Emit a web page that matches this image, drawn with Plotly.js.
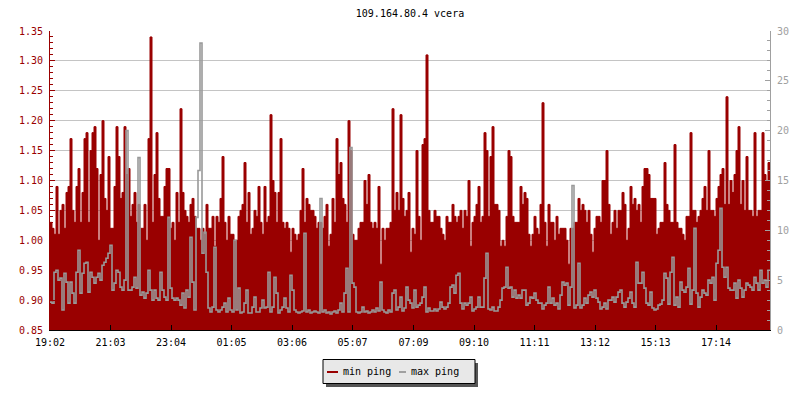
<!DOCTYPE html>
<html>
<head>
<meta charset="utf-8">
<script src="https://cdn.plot.ly/plotly-3.0.1.min.js"></script>
<style>
html,body{margin:0;padding:0;background:#fff;}
#chart{width:800px;height:400px;}
</style>
</head>
<body>
<div id="chart"></div>
<script>
// ---- data ----
const chartTitle = '109.164.80.4 vcera';
const seriesNames = ['min ping', 'max ping'];
const tickLabels = ['19:02','21:03','23:04','01:05','03:06','05:07','07:09','09:10','11:11','13:12','15:13','17:14'];
const startLabel = '19:02';
const spanMinutes = 1440;

// min ping (left axis), one value per 4 minutes
const minPing = [
1.03,1.02,1.01,1.09,1.01,1.05,1.06,1.02,1.08,1.09,
1.17,1.05,1.03,1.09,1.12,1.03,1.08,1.17,1.18,1.03,
1.15,1.18,1.19,1.12,1.00,1.11,1.20,1.07,1.05,1.14,
1.02,1.02,1.09,1.19,1.14,1.07,1.08,1.19,1.11,1.12,
1.04,1.06,1.08,1.03,1.06,1.02,1.02,1.06,1.00,1.17,
1.34,1.03,1.11,1.18,1.07,1.04,1.04,1.09,1.12,1.12,

1.02,1.03,1.00,1.08,1.03,1.22,1.08,1.05,1.04,1.03,
1.06,1.07,1.04,1.02,1.02,1.00,1.02,1.01,1.06,1.02,
1.02,1.04,0.99,1.04,1.03,1.07,1.14,1.03,1.00,1.04,
1.01,1.01,1.00,1.00,1.04,1.05,1.06,1.13,1.03,1.08,
1.01,1.02,1.05,1.04,1.09,1.03,1.01,1.09,1.03,1.04,
1.21,1.10,1.08,1.03,1.08,1.17,1.03,1.02,1.03,1.02,

0.98,1.02,1.01,1.00,1.01,1.05,1.12,1.03,1.07,1.06,
1.05,1.05,1.04,1.02,1.03,1.03,1.02,1.04,1.06,0.99,
1.01,1.07,1.03,1.17,1.11,1.13,1.07,1.06,1.03,1.20,
1.15,1.01,1.00,1.00,1.02,1.03,1.03,1.10,1.06,1.11,
1.03,1.02,1.03,1.02,1.09,0.96,1.02,1.00,1.02,1.02,
1.03,1.22,1.05,1.08,1.05,1.21,1.07,1.04,1.05,1.08,

0.98,1.02,1.01,1.15,1.04,1.00,1.16,1.17,1.31,1.05,
1.03,1.03,1.05,1.04,1.04,1.02,1.01,1.00,1.04,1.03,
1.03,1.06,1.04,1.03,1.04,1.05,1.02,1.05,1.04,1.10,
0.99,1.03,1.04,1.06,1.09,1.03,1.04,1.18,1.15,1.04,
1.14,1.19,1.06,1.06,1.05,0.99,1.00,0.99,1.04,1.15,
1.14,1.04,1.03,1.03,1.03,1.09,1.06,1.08,1.07,1.01,

0.99,1.01,1.04,1.02,1.01,1.06,1.23,1.03,0.99,1.06,
1.03,1.03,1.00,1.04,1.01,1.02,1.02,1.02,1.00,0.96,
1.02,1.02,1.03,1.03,1.07,1.05,1.06,1.05,1.03,1.05,
1.01,0.98,1.02,1.04,1.04,1.03,1.10,1.10,1.15,1.06,
1.01,1.03,1.05,1.02,1.05,1.05,1.08,1.06,1.00,1.02,
1.09,1.06,1.07,1.05,1.06,1.03,1.09,1.12,1.12,1.11,

1.07,1.07,1.07,1.01,1.02,1.03,1.03,1.13,1.06,1.05,
1.03,1.03,1.16,1.03,1.02,1.02,1.01,1.00,1.04,1.04,
1.18,1.05,1.05,1.03,1.04,1.05,1.07,1.09,1.05,1.15,
1.05,1.05,1.04,1.07,1.09,1.11,1.12,1.06,1.24,1.06,
1.10,1.08,1.11,1.15,1.19,1.06,1.10,1.05,1.14,1.05,
1.05,1.04,1.18,1.04,1.05,1.05,1.18,1.11,1.10,1.13
];

// max ping (right axis), one value per 4 minutes
const maxPing = [
2.8,2.7,5.8,6.0,5.0,5.2,2.0,5.7,4.8,2.7,
4.8,3.7,2.7,5.8,8.0,3.7,5.7,6.7,6.8,3.8,
5.8,5.3,4.7,5.3,5.7,5.0,6.5,6.8,7.2,7.7,
8.5,4.0,4.7,6.0,5.8,4.3,4.0,5.0,20.0,4.0,
4.0,4.3,5.3,4.2,17.3,3.5,3.8,3.2,3.7,6.0,
4.0,3.0,4.0,3.2,3.0,5.8,4.0,3.3,3.0,11.3,

4.2,3.2,3.0,3.2,3.0,2.5,3.7,2.2,4.0,3.3,
9.3,4.8,2.0,11.3,16.0,28.8,7.7,9.8,5.8,2.2,
1.8,2.3,8.3,2.0,1.8,2.0,2.3,2.7,1.8,3.2,
2.0,1.8,9.0,2.0,4.2,1.7,1.8,2.7,4.0,1.7,
1.7,2.3,3.3,1.8,1.8,2.2,3.0,2.2,2.3,5.8,
1.8,2.3,5.3,3.7,1.7,2.0,2.3,3.2,2.2,1.8,

5.5,4.0,2.0,1.8,1.7,1.8,1.9,9.7,1.8,2.0,
1.7,1.8,1.9,1.8,1.7,13.2,1.8,2.0,1.7,1.8,
1.6,1.8,1.9,1.7,2.0,2.7,1.8,3.7,6.2,1.8,
18.3,4.7,4.3,1.8,1.7,1.8,2.3,1.8,1.9,1.7,
1.8,2.0,1.8,2.2,1.9,4.8,2.0,1.8,1.7,2.0,
1.8,3.7,4.0,2.0,2.3,3.3,1.9,2.2,4.3,3.0,

2.7,2.2,4.0,2.3,2.5,2.7,3.3,4.3,1.8,2.2,
1.9,1.9,2.1,1.9,2.1,2.8,2.3,2.1,2.3,2.7,
4.3,4.5,3.7,5.5,5.7,2.7,2.1,2.7,2.5,2.7,
3.3,1.9,2.1,2.3,3.3,2.3,2.3,5.2,7.7,2.1,
2.0,2.3,1.9,1.9,2.3,3.0,4.2,4.3,6.3,4.2,
4.3,3.3,4.0,3.2,3.5,3.2,4.0,4.0,2.5,2.7,

3.3,3.2,3.7,3.0,2.7,2.7,2.1,2.5,2.7,4.3,
2.7,3.2,2.5,2.7,2.1,3.5,4.8,4.5,4.7,2.5,
4.3,14.5,2.2,2.5,6.7,2.2,2.5,3.2,2.7,3.5,
3.8,3.3,4.0,3.2,2.8,2.1,2.3,2.7,2.1,3.0,
3.0,3.3,2.8,3.3,3.8,4.0,2.7,2.3,2.8,3.2,
3.8,2.7,2.3,6.8,4.7,4.7,5.8,4.2,2.7,2.5,

3.8,2.2,2.0,2.1,2.5,2.6,3.0,5.7,5.2,2.6,
5.8,7.3,2.5,3.3,2.3,4.8,4.0,3.8,4.3,6.2,
2.6,4.0,10.2,3.7,2.3,3.3,4.0,3.7,3.5,5.0,
4.7,5.3,3.0,6.7,8.0,12.2,6.3,5.3,6.3,4.2,
4.0,4.0,4.7,3.2,5.0,4.2,3.3,4.0,4.7,4.5,
4.3,4.0,5.3,4.7,4.0,6.0,4.7,5.0,4.3,6.0
];

// ---- derived positions (minutes since start) ----
function toMin(s){ const p = s.split(':'); return (+p[0])*60 + (+p[1]); }
const start = toMin(startLabel);
const tickVals = tickLabels.map(l => ((toMin(l) - start) + 1440) % 1440);
function stepX(arr){ const st = spanMinutes / arr.length; const xs = arr.map((_, i) => i*st); xs.push(spanMinutes); return xs; }
function stepY(arr){ return arr.concat([arr[arr.length-1]]); }

const RED = '#990000';
const GRAY = '#999999';
const AXGRAY = '#a0a0a0';
const FONT = 'DejaVu Sans Mono, Liberation Mono, monospace';

const traces = [
  {
    x: stepX(minPing), y: stepY(minPing), name: seriesNames[0],
    type: 'scatter', mode: 'lines', line: {shape: 'hv', color: RED, width: 1},
    fill: 'tozeroy', fillcolor: RED, hoverinfo: 'skip', showlegend: false, xaxis: 'x', yaxis: 'y'
  },
  {
    x: stepX(maxPing), y: stepY(maxPing), name: seriesNames[1],
    type: 'scatter', mode: 'lines', line: {shape: 'hv', color: GRAY, width: 1.6},
    hoverinfo: 'skip', showlegend: false, xaxis: 'x', yaxis: 'y2'
  }
];

// legend drawn by hand (paper coordinates from pixel layout)
const L = 50, W = 720, B = 330, H = 299;
const px = v => (v - L) / W;
const py = v => (B - v) / H;

const layout = {
  width: 800, height: 400,
  margin: {l: 50, r: 30, t: 31, b: 70, pad: 0},
  paper_bgcolor: '#ffffff', plot_bgcolor: '#ffffff',
  font: {family: FONT, size: 10, color: '#000000'},
  title: {text: chartTitle, x: 0.5, xanchor: 'center', xref: 'paper', y: 1 - 13/400, yref: 'container', yanchor: 'middle', font: {family: FONT, size: 10, color: '#000'}},
  showlegend: false,
  xaxis: {
    range: [0, spanMinutes], tickmode: 'array', tickvals: tickVals, ticktext: tickLabels,
    ticks: 'inside', ticklen: 5, tickcolor: '#000', tickwidth: 1,
    showline: true, linecolor: '#000', linewidth: 1, showgrid: false, zeroline: false,
    tickfont: {family: FONT, size: 10, color: '#000'}, fixedrange: true, ticklabelstandoff: 3
  },
  yaxis: {
    range: [0.85, 1.35], tick0: 0.85, dtick: 0.05, tickformat: '.2f',
    ticks: 'inside', ticklen: 5, tickcolor: RED, tickwidth: 1,
    showline: true, linecolor: RED, linewidth: 1,
    showgrid: true, gridcolor: '#c4c4c4', gridwidth: 1, zeroline: false,
    tickfont: {family: FONT, size: 10, color: RED}, fixedrange: true, ticklabelstandoff: 4,
    minor: {dtick: 0.01, tick0: 0.85, ticks: 'inside', ticklen: 3, tickcolor: RED, showgrid: false}
  },
  yaxis2: {
    overlaying: 'y', side: 'right', range: [0, 30], tick0: 0, dtick: 5,
    ticks: 'inside', ticklen: 5, tickcolor: AXGRAY, tickwidth: 1,
    showline: true, linecolor: AXGRAY, linewidth: 1, showgrid: false, zeroline: false,
    tickfont: {family: FONT, size: 10, color: AXGRAY}, fixedrange: true, ticklabelstandoff: 4,
    minor: {dtick: 1, tick0: 0, ticks: 'inside', ticklen: 3, tickcolor: AXGRAY, showgrid: false}
  },
  shapes: [
    {type: 'rect', xref: 'paper', yref: 'paper', x0: px(326), x1: px(478), y0: py(387), y1: py(363), fillcolor: '#555555', line: {width: 0}, layer: 'above'},
    {type: 'rect', xref: 'paper', yref: 'paper', x0: px(323), x1: px(475), y0: py(383.5), y1: py(359.5), fillcolor: '#e8e8e8', line: {color: '#000', width: 1}, layer: 'above'},
    {type: 'line', xref: 'paper', yref: 'paper', x0: px(327), x1: px(338), y0: py(372), y1: py(372), line: {color: RED, width: 2}, layer: 'above'},
    {type: 'line', xref: 'paper', yref: 'paper', x0: px(399), x1: px(406), y0: py(372), y1: py(372), line: {color: AXGRAY, width: 2}, layer: 'above'}
  ],
  annotations: [
    {text: seriesNames[0], xref: 'paper', yref: 'paper', x: px(341), y: py(371.5), xanchor: 'left', yanchor: 'middle', showarrow: false, font: {family: FONT, size: 10, color: '#000'}},
    {text: seriesNames[1], xref: 'paper', yref: 'paper', x: px(409), y: py(371.5), xanchor: 'left', yanchor: 'middle', showarrow: false, font: {family: FONT, size: 10, color: '#000'}}
  ]
};

Plotly.newPlot('chart', traces, layout, {displayModeBar: false, staticPlot: true});
</script>
</body>
</html>
